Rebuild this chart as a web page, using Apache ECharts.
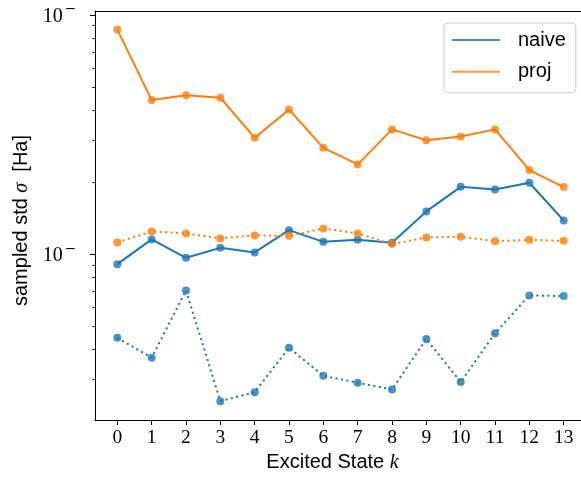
<!DOCTYPE html>
<html>
<head>
<meta charset="utf-8">
<script src="https://cdn.jsdelivr.net/npm/echarts@6/dist/echarts.min.js"></script>
<style>
  html, body { margin: 0; padding: 0; background: #fff; }
  #chart { width: 581px; height: 480px; }
</style>
</head>
<body>
<div id="chart"></div>
<script>
// Excited-state index on the x axis
const states = [0, 1, 2, 3, 4, 5, 6, 7, 8, 9, 10, 11, 12, 13];

// Sampled standard deviation [Ha], solid curves
const naiveStd = [0.00908, 0.01152, 0.00965, 0.01062, 0.01016, 0.01259, 0.01125,
                  0.01147, 0.01115, 0.01508, 0.01910, 0.01862, 0.01986, 0.01382];
const projStd  = [0.0867, 0.0440, 0.0461, 0.0450, 0.0306, 0.0402, 0.0278,
                  0.0237, 0.0332, 0.0299, 0.0310, 0.0332, 0.02244, 0.01906];

// Companion dotted curves
const naiveStdDotted = [0.00447, 0.00369, 0.00705, 0.00243, 0.00265, 0.00406, 0.00310,
                        0.00290, 0.00272, 0.00442, 0.00292, 0.00467, 0.00672, 0.00668];
const projStdDotted  = [0.01119, 0.01244, 0.01220, 0.01163, 0.01197, 0.01192, 0.01280,
                        0.01220, 0.01101, 0.01174, 0.01181, 0.01133, 0.01147, 0.01136];

// Log-axis decades and the minor ticks between them
const majorTicks = [0.01, 0.1];
const minorTicks = [0.003, 0.004, 0.005, 0.006, 0.007, 0.008, 0.009,
                    0.02, 0.03, 0.04, 0.05, 0.06, 0.07, 0.08, 0.09];

const BLUE = '#1f77b4';
const ORANGE = '#ff7f0e';
const SERIF = '"Liberation Serif", serif';
const SANS = '"Liberation Sans", sans-serif';
const FS = 19.5;
const FS_SANS = 20;

const pairs = vals => states.map((k, i) => [k, vals[i]]);

function lineSeries(name, vals, color, dotted) {
  return {
    name: name,
    type: 'line',
    data: pairs(vals),
    symbol: 'circle',
    symbolSize: 8,
    showSymbol: true,
    itemStyle: { color: color, opacity: 0.8 },
    lineStyle: { color: color, width: 2, type: dotted ? [2.1, 3.4] : 'solid' },
    emphasis: { disabled: true }
  };
}

const chart = echarts.init(document.getElementById('chart'));

chart.setOption({
  backgroundColor: '#fff',
  animation: false,
  grid: {
    left: 95, top: 11, width: 491, height: 409,
    outerBoundsMode: 'none',
    show: false
  },
  legend: {
    data: ['naive', 'proj'],
    orient: 'vertical',
    left: 444, top: 23,
    icon: 'rect',
    itemWidth: 48, itemHeight: 2,
    itemGap: 11.7,
    padding: [7, 10, 11, 8],
    backgroundColor: 'rgba(255,255,255,0.8)',
    borderColor: '#cccccc', borderWidth: 1, borderRadius: 4,
    textStyle: { fontFamily: SANS, fontSize: FS_SANS, color: '#000', lineHeight: 20, padding: [0, 0, 0, 13] }
  },
  xAxis: [
    {
      type: 'value',
      min: -0.65, max: 13.65,
      splitLine: { show: false },
      axisLine: { show: true, onZero: false, lineStyle: { color: '#000', width: 1 } },
      axisTick: { show: true, customValues: states, length: 5, lineStyle: { color: '#000', width: 1 } },
      axisLabel: {
        customValues: states, margin: 8,
        fontFamily: SERIF, fontSize: FS, color: '#000'
      },
      name: '{t|Excited State }{k|k}',
      nameLocation: 'middle',
      nameGap: 21,
      nameTextStyle: {
        padding: [0, 16, 0, 0],
        rich: {
          t: { fontFamily: SANS, fontSize: FS_SANS, color: '#000' },
          k: { fontFamily: SERIF, fontStyle: 'italic', fontSize: FS_SANS, color: '#000' }
        }
      }
    },
    {
      // top frame line
      type: 'value',
      position: 'top',
      min: -0.65, max: 13.65,
      splitLine: { show: false },
      axisLine: { show: true, onZero: false, lineStyle: { color: '#000', width: 1 } },
      axisTick: { show: false },
      axisLabel: { show: false }
    }
  ],
  yAxis: [
    {
      type: 'log', logBase: 10,
      min: 0.002027, max: 0.1037,
      splitLine: { show: false },
      axisLine: { show: true, onZero: false, lineStyle: { color: '#000', width: 1 } },
      axisTick: { show: true, customValues: majorTicks, length: 5, lineStyle: { color: '#000', width: 1 } },
      axisLabel: {
        customValues: majorTicks, margin: 19,
        formatter: () => '{d|10}{s|\u2212}',
        rich: {
          d: { fontFamily: SERIF, fontSize: 20, color: '#000', lineHeight: 24, verticalAlign: 'bottom' },
          s: { fontFamily: '"DejaVu Serif", serif', fontSize: 13.5, color: '#000', lineHeight: 24, verticalAlign: 'top', padding: [0, 0, 0, 2] }
        }
      },
      name: '{t|sampled std }{g|\u03c3}{t|  [Ha]}',
      nameLocation: 'middle',
      nameGap: 62,
      nameTextStyle: {
        padding: [0, 10, 0, 0],
        rich: {
          t: { fontFamily: SANS, fontSize: FS_SANS, color: '#000' },
          g: { fontFamily: SERIF, fontStyle: 'italic', fontSize: FS_SANS, color: '#000' }
        }
      }
    },
    {
      type: 'log', logBase: 10,
      min: 0.002027, max: 0.1037,
      position: 'left',
      splitLine: { show: false },
      axisLine: { show: false, onZero: false },
      axisTick: { show: true, customValues: minorTicks, length: 3, lineStyle: { color: '#000', width: 0.8 } },
      axisLabel: { show: false }
    }
  ],
  series: [
    lineSeries('naive', naiveStd, BLUE, false),
    lineSeries('proj', projStd, ORANGE, false),
    lineSeries('naive dotted', naiveStdDotted, BLUE, true),
    lineSeries('proj dotted', projStdDotted, ORANGE, true)
  ]
});
</script>
</body>
</html>
